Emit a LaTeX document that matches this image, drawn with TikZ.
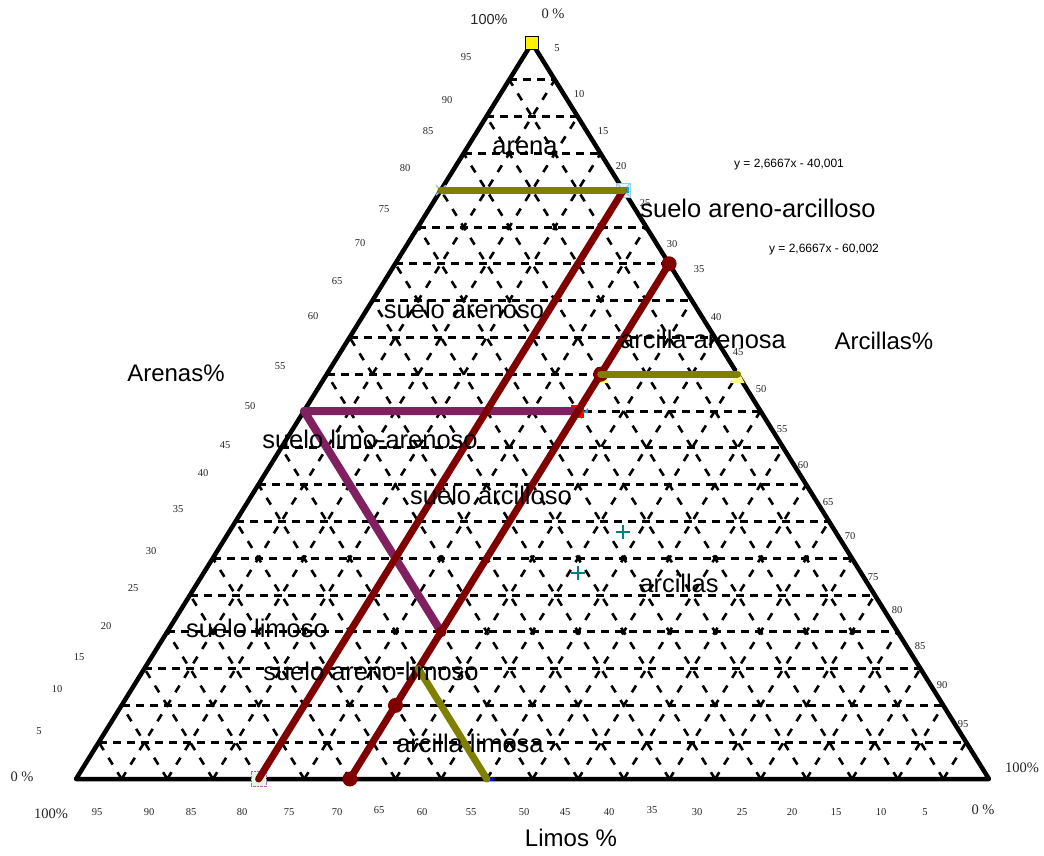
\documentclass[tikz,border=0pt]{standalone}
\usepackage{fontspec}
\setmainfont{Liberation Serif}
\setsansfont{Liberation Sans}
\usetikzlibrary{calc}
\definecolor{olivec}{RGB}{128,128,0}
\definecolor{maroonc}{RGB}{128,0,0}
\definecolor{plumc}{RGB}{128,32,96}
\definecolor{tealc}{RGB}{0,128,128}
\definecolor{paleblue}{RGB}{150,200,240}
\definecolor{palegreen}{RGB}{225,250,225}
\definecolor{paleyellow}{RGB}{255,255,130}
\begin{document}
\begin{tikzpicture}[x=1pt,y=-1pt,
  gridh/.style={line width=3pt, dash pattern=on 8pt off 6pt},
  gridd/.style={line width=2.6pt, dash pattern=on 8pt off 9pt},
  frame/.style={line width=4.5pt, line join=round, line cap=round},
  series/.style={line width=7pt, line cap=round, line join=round},
  dot/.style={circle, fill=maroonc, inner sep=0pt, minimum size=15pt},
  region/.style={font=\sffamily\fontsize{25.5}{28}\selectfont, anchor=base, inner sep=0pt},
  axisname/.style={font=\sffamily\fontsize{24}{28}\selectfont, anchor=base, inner sep=0pt},
  tick/.style={font=\fontsize{10.5}{12}\selectfont, inner sep=0pt, text=black!85},
  corner/.style={font=\fontsize{14.5}{16}\selectfont, inner sep=0pt, text=black!85},
  eqn/.style={font=\sffamily\fontsize{12}{14}\selectfont, anchor=base, inner sep=0pt},
  plus/.style={tealc, line width=2.2pt},
]
\useasboundingbox (0,0) rectangle (1044,855);

% triangle vertices
\coordinate (A) at (532,43);
\coordinate (L) at (76,779);
\coordinate (R) at (989,779);

% grid
\foreach \k in {1,...,19}{
  \pgfmathsetmacro\t{\k/20}
  \pgfmathsetmacro\u{1-\k/20}
  \draw[gridh] (barycentric cs:A=\u,L=\t,R=0) -- (barycentric cs:A=\u,L=0,R=\t);
  \draw[gridd] (barycentric cs:A=0,L=\u,R=\t) -- (barycentric cs:A=\u,L=0,R=\t);
  \draw[gridd] (barycentric cs:A=0,L=\t,R=\u) -- (barycentric cs:A=\u,L=\t,R=0);
}

% frame
\draw[frame] (A) -- (L) -- (R) -- cycle;

% series points
\coordinate (o1a) at (barycentric cs:A=0.8,L=0.2,R=0);
\coordinate (o1b) at (barycentric cs:A=0.8,L=0,R=0.2);
\coordinate (m1b) at (barycentric cs:A=0,L=0.8,R=0.2);
\coordinate (m2a) at (barycentric cs:A=0.7,L=0,R=0.3);
\coordinate (m2c) at (barycentric cs:A=0.55,L=0.15,R=0.3);
\coordinate (m2d) at (barycentric cs:A=0.1,L=0.6,R=0.3);
\coordinate (m2b) at (barycentric cs:A=0,L=0.7,R=0.3);
\coordinate (o2b) at (barycentric cs:A=0.55,L=0,R=0.45);
\coordinate (pa) at (barycentric cs:A=0.5,L=0.2,R=0.3);
\coordinate (pb) at (barycentric cs:A=0.5,L=0.5,R=0);
\coordinate (pc) at (barycentric cs:A=0.2,L=0.5,R=0.3);
\coordinate (o3a) at (barycentric cs:A=0.15,L=0.55,R=0.3);
\coordinate (o3b) at (barycentric cs:A=0,L=0.55,R=0.45);
\coordinate (t1) at (623,532);
\coordinate (t2) at (578,573);

% markers under the lines
\node[draw=violet!60, densely dotted, fill=palegreen, minimum size=15pt, inner sep=0pt] (gsq) at (m1b) {};
\node[draw=paleblue, fill=cyan!6, minimum size=14pt, inner sep=0pt] (bsq) at (o1b) {};
\draw[paleblue, line width=1.2pt] ($(o1b)+(-6,-6)$) -- ($(o1b)+(6,6)$) ($(o1b)+(-6,6)$) -- ($(o1b)+(6,-6)$);
\fill[cyan] ($(o1b)+(3,-3)$) rectangle ($(o1b)+(6,3)$);
\draw[paleblue, line width=1.4pt] ($(o1a)+(-5,-5)$) -- ($(o1a)+(5,5)$) ($(o1a)+(-5,5)$) -- ($(o1a)+(5,-5)$);
\fill[paleyellow] ($(m2c)+(-6,9)$) -- ($(m2c)+(8,9)$) -- ($(m2c)+(1,-4)$) -- cycle;
\fill[paleyellow] ($(o2b)+(-7,9)$) -- ($(o2b)+(7,9)$) -- ($(o2b)+(0,-5)$) -- cycle;
\node[fill=red, minimum size=13pt, inner sep=0pt] (rsq) at (pa) {};
\fill[cyan] ($(pa)+(5,2)$) -- ($(pa)+(10,2)$) -- ($(pa)+(10,-3)$) -- cycle;
\fill[blue] ($(o3b)+(0,-2)$) rectangle ($(o3b)+(6,2)$);

% series lines
\draw[series, plumc, line width=8pt] (pa) -- (pb) -- (pc);
\draw[series, maroonc] (o1b) -- (m1b);
\draw[series, maroonc] (m2a) -- (m2b);
\draw[series, olivec] (o1a) -- (o1b);
\node[dot] (d1) at (m2a) {};
\node[dot] (d2) at (m2c) {};
\node[dot, minimum size=11pt] (d3) at (pc) {};
\node[dot] (d4) at (m2d) {};
\node[dot] (d5) at (m2b) {};
\draw[series, olivec] (m2c) -- (o2b);
\draw[series, olivec] (o3a) -- (o3b);

% yellow apex marker
\node[draw=black, line width=1.3pt, fill=yellow, minimum size=13pt, inner sep=0pt] (apexmark) at (A) {};

% teal crosses
\draw[plus] ($(t1)+(-7,0)$) -- ($(t1)+(7,0)$) ($(t1)+(0,-7)$) -- ($(t1)+(0,7)$);
\draw[plus] ($(t2)+(-7,0)$) -- ($(t2)+(7,0)$) ($(t2)+(0,-7)$) -- ($(t2)+(0,7)$);

% ticks
\foreach \v/\x/\y in {95/466/57, 90/447/100, 85/428/131, 80/405/168, 75/384/209, 70/360/243, 65/337/281, 60/313/316, 55/280/366, 50/250/406, 45/225/445, 40/203/473, 35/178/509, 30/151/551, 25/133/588, 20/106/626, 15/79/657, 10/57/689, 5/39/731}
  \node[tick] (lt\v) at (\x,\y) {\v};
\foreach \v/\x/\y in {5/557/48, 10/579/94, 15/603/131, 20/621/166, 25/645/203, 30/672/244, 35/699/269, 40/716/317, 45/738/352, 50/761/389, 55/782/429, 60/803/465, 65/828/502, 70/850/536, 75/873/577, 80/897/610, 85/920/646, 90/942/685, 95/963/724}
  \node[tick] (rt\v) at (\x,\y) {\v};
\foreach \v/\x/\y in {95/97/812, 90/149/812, 85/191/812, 80/242/812, 75/289/812, 70/337/812, 65/379/810, 60/422/812, 55/471/812, 50/524/812, 45/565/812, 40/609/812, 35/652/810, 30/697/812, 25/742/812, 20/792/812, 15/836/812, 10/881/812, 5/925/812}
  \node[tick] (bt\v) at (\x,\y) {\v};

% corner labels
\node[corner, font=\sffamily\fontsize{14.5}{16}\selectfont] (c1) at (489,20) {100\%};
\node[corner] (c2) at (553,14) {0 \%};
\node[corner] (c3) at (22,777) {0 \%};
\node[corner] (c4) at (51,814) {100\%};
\node[corner] (c5) at (1022,768) {100\%};
\node[corner] (c6) at (983,810) {0 \%};

% axis names
\node[axisname] (ax1) at (176,381) {Arenas\%};
\node[axisname] (ax2) at (884,349) {Arcillas\%};
\node[axisname] (ax3) at (571,846) {Limos \%};

% equations
\node[eqn] (eq1) at (789,167) {y = 2,6667x - 40,001};
\node[eqn] (eq2) at (824,252) {y = 2,6667x - 60,002};

% regions
\node[region] (r1) at (525,154) {arena};
\node[region] (r2) at (758,217) {suelo areno-arcilloso};
\node[region] (r3) at (464,318) {suelo arenoso};
\node[region] (r4) at (703,348) {arcilla arenosa};
\node[region] (r5) at (370,448) {suelo limo-arenoso};
\node[region] (r6) at (491,504) {suelo arcilloso};
\node[region] (r7) at (679,592) {arcillas};
\node[region] (r8) at (257,637) {suelo limoso};
\node[region] (r9) at (371,680) {suelo areno-limoso};
\node[region] (r10) at (470,752) {arcilla limosa};
\end{tikzpicture}
\end{document}
